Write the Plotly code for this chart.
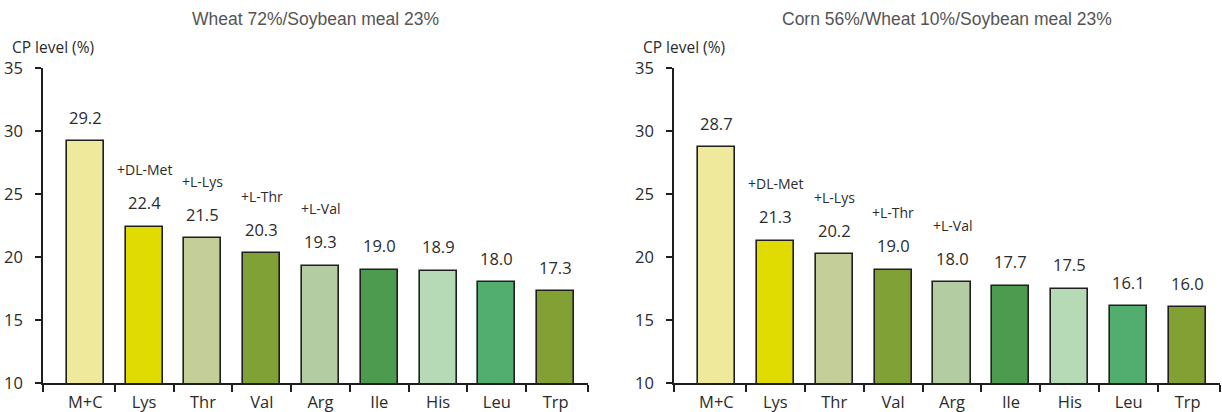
import plotly.graph_objects as go

categories = ["M+C", "Lys", "Thr", "Val", "Arg", "Ile", "His", "Leu", "Trp"]
wheat_values = [29.2, 22.4, 21.5, 20.3, 19.3, 19.0, 18.9, 18.0, 17.3]
corn_values = [28.7, 21.3, 20.2, 19.0, 18.0, 17.7, 17.5, 16.1, 16.0]
added_labels = ["", "+DL-Met", "+L-Lys", "+L-Thr", "+L-Val", "", "", "", ""]
titles = ["Wheat 72%/Soybean meal 23%", "Corn 56%/Wheat 10%/Soybean meal 23%"]
y_title = "CP level (%)"
y_ticks = [10, 15, 20, 25, 30, 35]

bar_colors = ["#EFE99B", "#E0DB00", "#C4CE98", "#80A136", "#B3CCA2",
              "#4D9B4F", "#B7DAB6", "#51AE6E", "#82A034"]

FONT = "Open Sans"
TXT = "#2b2b2b"
W, H = 1222, 412
xs = list(range(len(categories)))
x_range = [-0.72, 8.55]
boundaries = [x_range[0]] + [i + 0.5 for i in range(len(categories) - 1)] + [x_range[1]]


def px_x(p):
    return p / W


def px_y(p):
    return (H - p) / H


fig = go.Figure()
panels = [(wheat_values, "x", "y", [px_x(43), px_x(588)]),
          (corn_values, "x2", "y2", [px_x(674), px_x(1220)])]

ydom = [px_y(383), px_y(68)]

for k, (vals, xa, ya, dom) in enumerate(panels):
    fig.add_trace(go.Bar(
        x=xs, y=vals, xaxis=xa, yaxis=ya, width=0.63,
        marker=dict(color=bar_colors, line=dict(color="#1f1f1f", width=1.6)),
        showlegend=False, hoverinfo="skip"))
    suffix = "" if k == 0 else "2"
    axis_common = dict(showgrid=False, zeroline=False, showline=True,
                       linecolor="#1f1f1f", linewidth=1.6, automargin=False)
    fig.layout["xaxis" + suffix] = dict(
        domain=dom, range=x_range, anchor="y" + suffix,
        tickmode="array", tickvals=xs, ticktext=categories, ticks="",
        ticklabelstandoff=3,
        tickfont=dict(family=FONT, size=16.5, color=TXT),
        minor=dict(tickmode="array", tickvals=boundaries, ticks="outside",
                   ticklen=7, tickwidth=1.6, tickcolor="#1f1f1f"),
        **axis_common)
    fig.layout["yaxis" + suffix] = dict(
        domain=ydom, range=[10, 35], anchor="x" + suffix,
        tickmode="array", tickvals=y_ticks, ticks="outside", ticklen=6,
        tickwidth=1.6, tickcolor="#1f1f1f", ticklabelstandoff=9,
        tickfont=dict(family=FONT, size=16.5, color=TXT),
        **axis_common)
    xref = "x" + suffix
    yref = "y" + suffix
    for i, v in enumerate(vals):
        fig.add_annotation(x=xs[i], y=v, xref=xref, yref=yref, text=f"{v:.1f}",
                           showarrow=False, yanchor="middle", yshift=24,
                           font=dict(family=FONT, size=16.5, color=TXT))
        if added_labels[i]:
            fig.add_annotation(x=xs[i], y=v, xref=xref, yref=yref, text=added_labels[i],
                               showarrow=False, yanchor="middle", yshift=57,
                               font=dict(family=FONT, size=14, color=TXT))
    # panel title
    fig.add_annotation(x=sum(dom) / 2, y=1, xref="paper", yref="paper",
                       yshift=-19, text=titles[k], showarrow=False,
                       yanchor="middle", xanchor="center",
                       font=dict(family="Liberation Sans", size=17.5, color="#555555"))
    # y title
    fig.add_annotation(x=dom[0], y=1, xref="paper", yref="paper",
                       xshift=-33, yshift=-47, text=y_title, showarrow=False,
                       xanchor="left", yanchor="middle",
                       font=dict(family=FONT, size=15.5, color=TXT))

fig.update_layout(width=W, height=H, margin=dict(l=0, r=0, t=0, b=0),
                  plot_bgcolor="white", paper_bgcolor="white", bargap=0)
fig.write_html("out.html", config={"displayModeBar": False},
               post_script="document.body.style.margin='0';document.body.style.overflow='hidden';")
